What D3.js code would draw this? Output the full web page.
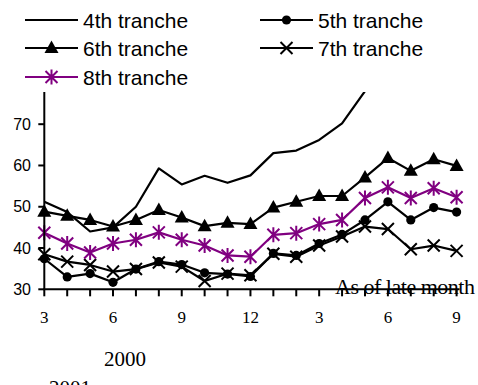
<!DOCTYPE html>
<meta charset="utf-8">
<style>
body { margin: 0; background: #fff; }
svg { background: #fff; }
.ytick { font-family: "Liberation Sans", Arial, sans-serif; font-size: 16px; fill: #000; }
.xtick { font-family: "Liberation Serif", "Times New Roman", serif; font-size: 17px; fill: #000; }
.serif { font-family: "Liberation Serif", "Times New Roman", serif; font-size: 21px; fill: #000; }
.note { font-family: "Liberation Serif", "Times New Roman", serif; font-size: 22px; fill: #000; }
.legend text { font-family: "Liberation Sans", Arial, sans-serif; font-size: 21px; fill: #000; }
</style>
<body>
<script src="https://d3js.org/d3.v7.min.js"></script>
<script>

// months from 2000/3 to 2001/9
var months = ["3","4","5","6","7","8","9","10","11","12","1","2","3","4","5","6","7","8","9"];
var tickLabels = ["3","6","9","12","3","6","9"];
var tickIndex = [0,3,6,9,12,15,18];
var yTicks = [30,40,50,60,70];

var names = ["4th tranche","5th tranche","6th tranche","7th tranche","8th tranche"];

var s4 = [51.2,48.7,44.0,45.0,50.0,59.3,55.4,57.5,55.8,57.6,63.0,63.6,66.2,70.2,78.0,84.0,82.0,86.0,85.0];
var s5 = [37.4,33.0,33.8,31.7,34.9,36.7,36.0,34.0,33.7,33.1,38.7,38.2,41.1,43.3,46.8,51.2,46.8,49.8,48.7];
var s6 = [48.8,47.8,46.8,45.2,46.8,49.2,47.4,45.3,46.1,45.8,49.8,51.2,52.6,52.6,57.1,61.8,58.7,61.5,59.9];
var s7 = [38.5,36.7,35.9,34.3,34.9,36.5,35.5,32.0,33.8,33.4,38.6,37.9,40.6,42.8,45.2,44.6,39.7,40.6,39.3];
var s8 = [43.7,41.1,38.9,41.1,42.0,43.8,42.0,40.6,38.2,37.9,43.2,43.6,45.8,46.8,52.1,54.7,52.1,54.5,52.3];

var series = [
  {name: names[0], values: s4, color: "#000", marker: "none"},
  {name: names[1], values: s5, color: "#000", marker: "circle"},
  {name: names[2], values: s6, color: "#000", marker: "triangle"},
  {name: names[3], values: s7, color: "#000", marker: "x"},
  {name: names[4], values: s8, color: "#800080", marker: "star"}
];

var W = 478, H = 385;

var x = d3.scaleLinear().domain([0, months.length - 1]).range([44.3, 456.6]);
var y = d3.scaleLinear().domain([30, 77.8]).range([289.3, 92]);

var svg = d3.select("body").append("svg")
    .attr("width", W)
    .attr("height", H);

svg.append("defs").append("clipPath").attr("id", "plot")
  .append("rect").attr("x", 0).attr("y", y(77.8)).attr("width", W).attr("height", H);

// draw a marker into a group centred at 0,0
function marker(g, type, color) {
  if (type == "circle") {
    g.append("circle").attr("r", 4.6).attr("fill", color);
  } else if (type == "triangle") {
    g.append("path").attr("d", "M0,-7.5L7,5L-7,5Z").attr("fill", color);
  } else if (type == "x") {
    g.append("path").attr("d", "M-6,-6L6,6M-6,6L6,-6")
      .attr("stroke", color).attr("stroke-width", 2).attr("fill", "none");
  } else if (type == "star") {
    g.append("path").attr("d", "M-6,-6L6,6M-6,6L6,-6M0,-7.5L0,7.5")
      .attr("stroke", color).attr("stroke-width", 2).attr("fill", "none");
  }
}

var line = d3.line()
    .x(function(d, i) { return x(i); })
    .y(function(d) { return y(d); });

var plot = svg.append("g").attr("clip-path", "url(#plot)");

series.forEach(function(s) {
  plot.append("path")
      .datum(s.values)
      .attr("fill", "none")
      .attr("stroke", s.color)
      .attr("stroke-width", 2.2)
      .attr("stroke-linejoin", "round")
      .attr("d", line);
  if (s.marker != "none") {
    s.values.forEach(function(v, i) {
      var g = plot.append("g").attr("transform", "translate(" + x(i) + "," + y(v) + ")");
      marker(g, s.marker, s.color);
    });
  }
});

// y axis
svg.append("line")
    .attr("x1", x(0)).attr("x2", x(0))
    .attr("y1", y(77.8)).attr("y2", y(30))
    .attr("stroke", "#000").attr("stroke-width", 2);

yTicks.forEach(function(t) {
  svg.append("line")
      .attr("x1", x(0) - 6).attr("x2", x(0))
      .attr("y1", y(t)).attr("y2", y(t))
      .attr("stroke", "#000").attr("stroke-width", 2);
  svg.append("text")
      .attr("class", "ytick")
      .attr("x", 31).attr("y", y(t))
      .attr("dy", "0.35em")
      .attr("text-anchor", "end")
      .text(t);
});

// note sits under the x axis line
svg.append("text")
    .attr("class", "note")
    .attr("x", 335).attr("y", 294)
    .attr("textLength", 140)
    .attr("lengthAdjust", "spacing")
    .text("As of late month");

// x axis
svg.append("line")
    .attr("x1", x(0) - 1).attr("x2", x(months.length - 1) + 3)
    .attr("y1", y(30)).attr("y2", y(30))
    .attr("stroke", "#000").attr("stroke-width", 2);

months.forEach(function(m, i) {
  svg.append("line")
      .attr("x1", x(i)).attr("x2", x(i))
      .attr("y1", y(30)).attr("y2", y(30) + 7)
      .attr("stroke", "#000").attr("stroke-width", 2);
});

tickIndex.forEach(function(k, j) {
  svg.append("text")
      .attr("class", "xtick")
      .attr("x", x(k)).attr("y", 323)
      .attr("text-anchor", "middle")
      .text(tickLabels[j]);
});

svg.append("text").attr("class", "serif")
    .attr("x", 125).attr("y", 366).attr("text-anchor", "middle").text("2000");
svg.append("text").attr("class", "serif")
    .attr("x", 70).attr("y", 395).attr("text-anchor", "middle").text("2001");

// legend
var legPos = [[25, 20], [260, 20], [25, 48], [260, 48], [25, 77]];
var legend = svg.append("g").attr("class", "legend");

series.forEach(function(s, i) {
  var g = legend.append("g").attr("transform", "translate(" + legPos[i][0] + "," + legPos[i][1] + ")");
  g.append("line")
      .attr("x1", 0).attr("x2", 53)
      .attr("stroke", s.color).attr("stroke-width", 2.2);
  marker(g.append("g").attr("transform", "translate(26.5,0)"), s.marker, s.color);
  g.append("text")
      .attr("x", 58).attr("dy", "0.36em")
      .text(s.name);
});

</script>
</body>
